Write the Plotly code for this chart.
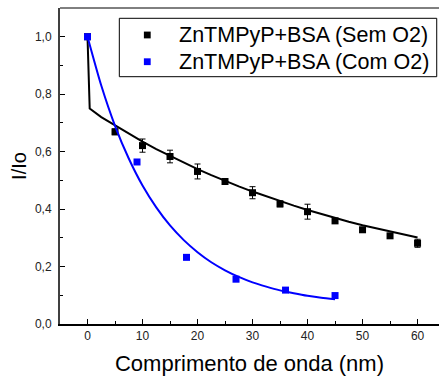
import plotly.graph_objects as go

# Measured data: without O2 (mean ± error) and with O2
x_sem = [0, 5, 10, 15, 20, 25, 30, 35, 40, 45, 50, 55, 60]
y_sem = [1.0, 0.669, 0.621, 0.583, 0.531, 0.496, 0.457, 0.418, 0.391, 0.359, 0.328, 0.307, 0.281]
err_sem = [0.0, 0.01, 0.023, 0.022, 0.026, 0.008, 0.021, 0.01, 0.026, 0.008, 0.008, 0.008, 0.014]

x_com = [0, 9, 18, 27, 36, 45]
y_com = [1.0, 0.564, 0.232, 0.156, 0.118, 0.099]

# Fitted decay curves
x_fit_sem = [0, 0.4, 2.5, 5, 7.5, 10, 12.5, 15, 17.5, 20, 22.5, 25, 27.5, 30, 32.5,
             35, 37.5, 40, 42.5, 45, 47.5, 50, 52.5, 55, 57.5, 60]
y_fit_sem = [1.0, 0.75, 0.72, 0.691, 0.662, 0.635, 0.609, 0.585, 0.562, 0.539, 0.518,
             0.498, 0.479, 0.461, 0.444, 0.428, 0.412, 0.397, 0.383, 0.369, 0.356,
             0.344, 0.333, 0.321, 0.311, 0.301]

x_fit_com = [0, 2.5, 5, 7.5, 10, 12.5, 15, 17.5, 20, 22.5, 25, 27.5, 30, 32.5, 35,
             37.5, 40, 42.5, 45]
y_fit_com = [1.0, 0.83, 0.69, 0.576, 0.482, 0.406, 0.343, 0.292, 0.25, 0.215, 0.187,
             0.164, 0.145, 0.13, 0.117, 0.107, 0.098, 0.091, 0.086]

y_ticks = [0.0, 0.2, 0.4, 0.6, 0.8, 1.0]
x_ticks = [0, 10, 20, 30, 40, 50, 60]

series_names = ["ZnTMPyP+BSA (Sem O2)", "ZnTMPyP+BSA (Com O2)"]
series_colors = ["black", "#0000ff"]

FONT = "Liberation Sans, Arial, sans-serif"

fig = go.Figure()

fig.add_trace(go.Scatter(
    x=x_sem, y=y_sem, mode="markers", name=series_names[0], showlegend=False,
    marker=dict(symbol="square", size=7, color=series_colors[0]),
    error_y=dict(type="data", array=err_sem, visible=True, color="black",
                 thickness=1, width=3),
))
fig.add_trace(go.Scatter(
    x=x_fit_sem, y=y_fit_sem, mode="lines", showlegend=False,
    line=dict(color=series_colors[0], width=2),
))
fig.add_trace(go.Scatter(
    x=x_com, y=y_com, mode="markers", name=series_names[1], showlegend=False,
    marker=dict(symbol="square", size=7, color=series_colors[1]),
))
fig.add_trace(go.Scatter(
    x=x_fit_com, y=y_fit_com, mode="lines", showlegend=False,
    line=dict(color=series_colors[1], width=2, shape="spline", smoothing=0.6),
))

# thin frame line along the top of the plot area
fig.add_shape(type="line", xref="paper", yref="paper", x0=0, x1=1, y0=1, y1=1,
              line=dict(color="black", width=1))

# legend box with square swatches and labels
fig.add_shape(type="rect", xref="paper", yref="paper",
              x0=0.1565, x1=0.994, y0=0.7826, y1=0.9674,
              line=dict(color="black", width=1), fillcolor="white", layer="above")
legend_rows_y = [0.9146, 0.830]
for name, color, ly in zip(series_names, series_colors, legend_rows_y):
    fig.add_shape(type="rect", xref="paper", yref="paper",
                  xsizemode="pixel", ysizemode="pixel",
                  xanchor=0.2303, yanchor=ly, x0=-3.4, x1=3.4, y0=-3.4, y1=3.4,
                  line=dict(width=0), fillcolor=color, layer="above")
    fig.add_annotation(x=0.3079, y=ly, xref="paper", yref="paper",
                       xanchor="left", yanchor="middle", showarrow=False,
                       text=name, font=dict(family=FONT, size=21.5, color="black"))

fig.update_layout(
    width=439, height=376,
    margin=dict(l=60, r=0, t=8, b=52),
    paper_bgcolor="white", plot_bgcolor="white",
    separators=",.",
    font=dict(family=FONT, color="black"),
    showlegend=False,
    xaxis=dict(
        range=[-5, 63.9], tickvals=x_ticks, ticks="inside", ticklen=5,
        tickwidth=1, tickcolor="black", showline=True, linecolor="black",
        linewidth=2, showgrid=False, zeroline=False,
        tickfont=dict(family=FONT, size=12, color="#222"),
        minor=dict(ticks="inside", ticklen=3, dtick=5, tick0=0, tickcolor="black"),
        title=dict(text="Comprimento de onda (nm)", font=dict(family=FONT, size=22),
                   standoff=16),
    ),
    yaxis=dict(
        range=[0, 1.1], tickvals=y_ticks, tickformat=".1f", ticks="inside",
        ticklen=5, tickwidth=1, tickcolor="black", showline=True,
        linecolor="#404040", linewidth=2, showgrid=False, zeroline=False,
        tickfont=dict(family=FONT, size=12, color="#222"),
        ticklabelstandoff=4,
        minor=dict(ticks="inside", ticklen=3, dtick=0.1, tick0=0, tickcolor="black"),
        title=dict(text="I/Io", font=dict(family=FONT, size=20), standoff=3),
    ),
)

fig.write_html("out.html")
